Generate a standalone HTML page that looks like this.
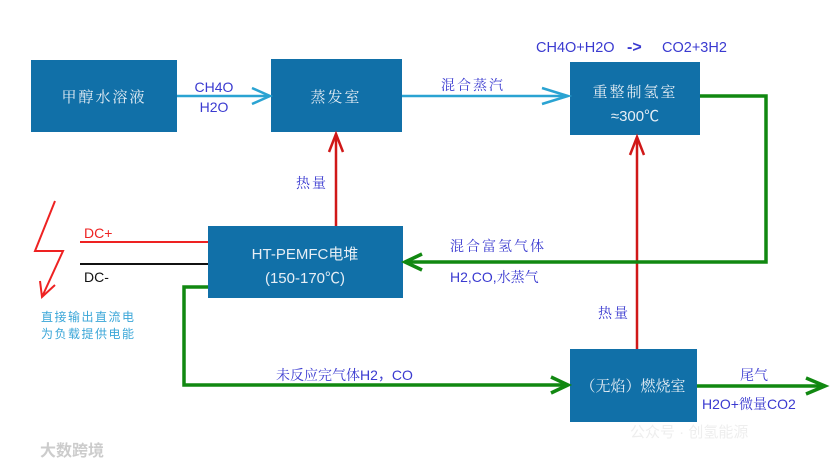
<!DOCTYPE html>
<html><head><meta charset="utf-8"><style>
html,body{margin:0;padding:0;background:#fff;}
svg{display:block;}
text{font-family:"Liberation Sans","Noto Sans CJK SC",sans-serif;}
.s{font-family:"Noto Serif CJK SC","Liberation Serif",serif;}
</style></head><body>
<svg width="835" height="466" viewBox="0 0 835 466" xmlns="http://www.w3.org/2000/svg">
<rect width="835" height="466" fill="#fff"/>
<g fill="#1170a8">
<rect x="31" y="60" width="146" height="72"/>
<rect x="271" y="59" width="131" height="73"/>
<rect x="570" y="62" width="130" height="73"/>
<rect x="208" y="226" width="195" height="72"/>
<rect x="570" y="349" width="127" height="73"/>
</g>
<g fill="#e6eef5" font-size="15">
<text x="104" y="102" text-anchor="middle" class="s" letter-spacing="2">甲醇水溶液</text>
<text x="336" y="102" text-anchor="middle" class="s" letter-spacing="2">蒸发室</text>
<text x="635" y="97" text-anchor="middle" class="s" letter-spacing="2">重整制氢室</text>
<text x="635" y="121" text-anchor="middle">≈300℃</text>
<text x="305" y="259" text-anchor="middle">HT-PEMFC电堆</text>
<text x="305" y="283" text-anchor="middle">(150-170℃)</text>
<text x="633" y="391" text-anchor="middle" class="s">（无焰）燃烧室</text>
</g>
<!-- cyan arrows -->
<g stroke="#2aa3d2" stroke-width="2.5" fill="none">
<line x1="177" y1="96" x2="270" y2="96"/>
<polyline points="252,88 270,96 252,104"/>
<line x1="402" y1="96" x2="568" y2="96"/>
<polyline points="542,88 568,96 542,104"/>
</g>
<!-- red -->
<g stroke="#d01818" stroke-width="2.5" fill="none">
<line x1="336" y1="226" x2="336" y2="134"/>
<polyline points="329,152 336,134 343,152"/>
<line x1="637" y1="349" x2="637" y2="137"/>
<polyline points="630,155 637,137 644,155"/>
</g>
<!-- DC -->
<line x1="80" y1="242" x2="208" y2="242" stroke="#ee2222" stroke-width="2"/>
<line x1="80" y1="264" x2="208" y2="264" stroke="#111" stroke-width="2"/>
<polyline points="55,201 35,251 63,251 42,297" stroke="#ee2222" stroke-width="2" fill="none"/>
<polyline points="40,281 42,297 55,285" stroke="#ee2222" stroke-width="2" fill="none"/>
<!-- green -->
<g stroke="#118811" stroke-width="3.5" fill="none">
<polyline points="700,96 766,96 766,262 405,262"/>
<polyline points="422,254 405,262 422,270"/>
<polyline points="208,287 184,287 184,385 568,385"/>
<polyline points="551,377 568,385 551,393"/>
<line x1="697" y1="386" x2="825" y2="386"/>
<polyline points="806,378 825,386 806,394"/>
</g>
<g fill="#3a3ad0" font-size="14">
<text x="214" y="92" text-anchor="middle">CH4O</text>
<text x="214" y="112" text-anchor="middle">H2O</text>
<text x="473" y="90" text-anchor="middle" class="s" letter-spacing="2">混合蒸汽</text>
<text x="536" y="52" font-size="14.5">CH4O+H2O</text>
<text x="627" y="52" font-size="16" font-weight="bold">-&gt;</text>
<text x="662" y="52" font-size="14.5">CO2+3H2</text>
<text x="296" y="188" class="s" letter-spacing="2">热量</text>
<text x="598" y="318" class="s" letter-spacing="2">热量</text>
<text x="450" y="251" class="s" letter-spacing="2">混合富氢气体</text>
<text x="450" y="282">H2,CO,<tspan class="s">水蒸气</tspan></text>
<text x="276" y="380"><tspan class="s">未反应完气体</tspan>H2，CO</text>
<text x="740" y="380" class="s">尾气</text>
<text x="702" y="409">H2O+<tspan class="s">微量</tspan>CO2</text>
<text x="84" y="238" fill="#ee2222">DC+</text>
<text x="84" y="282" fill="#111">DC-</text>
</g>
<g fill="#3aa6d8" font-size="12" class="s">
<text x="41" y="321" letter-spacing="1.5">直接输出直流电</text>
<text x="41" y="338" letter-spacing="1.5">为负载提供电能</text>
</g>
<text x="40" y="456" fill="#ccc" font-size="16" font-weight="bold">大数跨境</text>
<text x="630" y="437" fill="#eee" font-size="15">公众号 · 创氢能源</text>
</svg>
</body></html>
